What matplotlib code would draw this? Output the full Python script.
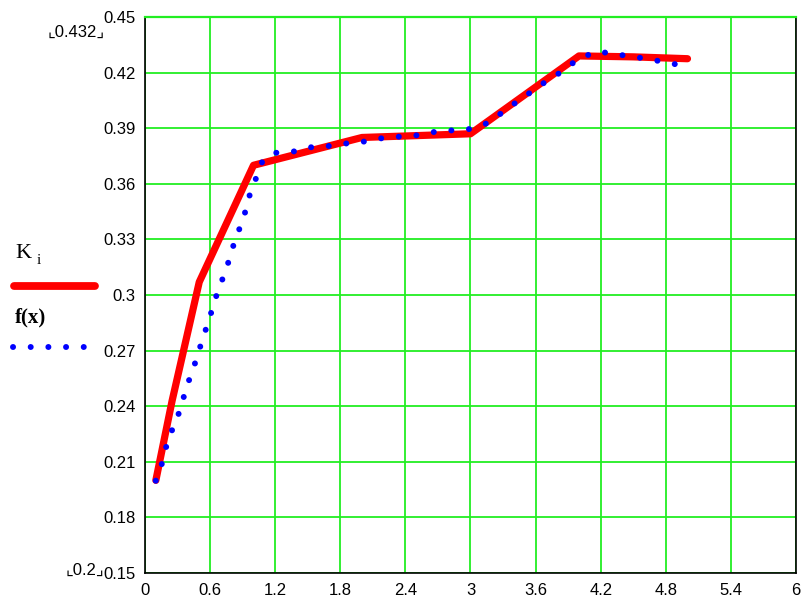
import matplotlib
matplotlib.use("Agg")
import matplotlib.pyplot as plt
from matplotlib.lines import Line2D
import numpy as np

# K_i - измеренные значения (ломаная)
x_k = [0.1, 0.25, 0.5, 1.0, 2.0, 3.0, 4.0, 4.5, 5.0]
k_i = [0.200, 0.243, 0.307, 0.370, 0.385, 0.387, 0.429, 0.4285, 0.4275]

# f(x) - сглаживающая кривая, точки
x_f = [0.099, 0.160, 0.200, 0.259, 0.323, 0.369, 0.425, 0.483, 0.529, 0.591,
       0.634, 0.693, 0.754, 0.800, 0.861, 0.917, 0.960, 1.022, 1.083, 1.200,
       1.367, 1.526, 1.693, 1.859, 2.019, 2.182, 2.352, 2.512, 2.684, 2.844,
       3.004, 3.176, 3.333, 3.494, 3.668, 3.826, 3.986, 4.162, 4.321, 4.481,
       4.654, 4.811, 4.971]
f_x = [0.1998, 0.2097, 0.2192, 0.2286, 0.2378, 0.2475, 0.2574, 0.2667, 0.2763, 0.2864,
       0.2957, 0.3053, 0.3148, 0.3243, 0.3342, 0.3434, 0.3531, 0.3628, 0.3723, 0.3767,
       0.3774, 0.3797, 0.3804, 0.3818, 0.3828, 0.3846, 0.3855, 0.3862, 0.3882, 0.3889,
       0.3896, 0.3932, 0.4004, 0.4069, 0.4141, 0.4200, 0.4270, 0.4315, 0.4301, 0.4287,
       0.4272, 0.4254, 0.4236]

x_ticks = [0, 0.6, 1.2, 1.8, 2.4, 3, 3.6, 4.2, 4.8, 5.4, 6]
x_labels = ["0", "0.6", "1.2", "1.8", "2.4", "3", "3.6", "4.2", "4.8", "5.4", "6"]
y_ticks = [0.15, 0.18, 0.21, 0.24, 0.27, 0.3, 0.33, 0.36, 0.39, 0.42, 0.45]
y_labels = ["0.15", "0.18", "0.21", "0.24", "0.27", "0.3", "0.33", "0.36", "0.39", "0.42", "0.45"]

tick_font = ["Liberation Sans", "DejaVu Sans"]
legend_font = ["Liberation Serif", "DejaVu Serif"]

red = "#ff0000"
blue = "#0000ff"
green = "#22ee22"
dot_style = (0, (0.01, 2.95))

fig = plt.figure(figsize=(8.02, 5.97), dpi=100)
ax = fig.add_axes([0.1808, 0.0402, 0.8117, 0.9313])

ax.plot(x_k, k_i, color=red, lw=5.2, solid_capstyle="round",
        solid_joinstyle="round", zorder=3)
ax.plot(x_f, f_x, color=blue, lw=4.3, linestyle=dot_style,
        dash_capstyle="round", zorder=4)

ax.set_xlim(0, 6)
ax.set_ylim(0.15, 0.45)
ax.set_xticks(x_ticks)
ax.set_xticklabels(x_labels, fontsize=12, family=tick_font)
ax.set_yticks(y_ticks)
ax.set_yticklabels(y_labels, fontsize=12, family=tick_font)
ax.tick_params(length=0, pad=7)
ax.grid(True, color=green, lw=1.3, zorder=1)
for s in ax.spines.values():
    s.set_color("black")
    s.set_linewidth(1.2)
ax.spines["top"].set_color(green)
ax.spines["top"].set_linewidth(1.6)

# пределы данных как в Mathcad
fig.text(0.095, 0.945, "\u231e0.432\u231f", fontsize=12, family=tick_font,
         ha="center", va="center")
fig.text(0.106, 0.045, "\u231e0.2\u231f", fontsize=12, family=tick_font,
         ha="center", va="center")

# легенда слева
fig.text(0.019, 0.5754, "K", fontsize=16, family=legend_font, ha="left", va="center")
fig.text(0.046, 0.5630, "i", fontsize=11, family=legend_font, ha="left", va="center")
fig.add_artist(Line2D([0.017, 0.119], [0.5209, 0.5209], color=red, lw=5.6,
                      solid_capstyle="round", transform=fig.transFigure))
fig.text(0.019, 0.469, "f(x)", fontsize=15, family=legend_font, weight="bold",
         ha="left", va="center")
fig.add_artist(Line2D([13 / 802, 85.5 / 802], [0.4188, 0.4188], color=blue, lw=4.3,
                      linestyle=dot_style, dash_capstyle="round",
                      transform=fig.transFigure))

fig.savefig("out.png", dpi=100)
